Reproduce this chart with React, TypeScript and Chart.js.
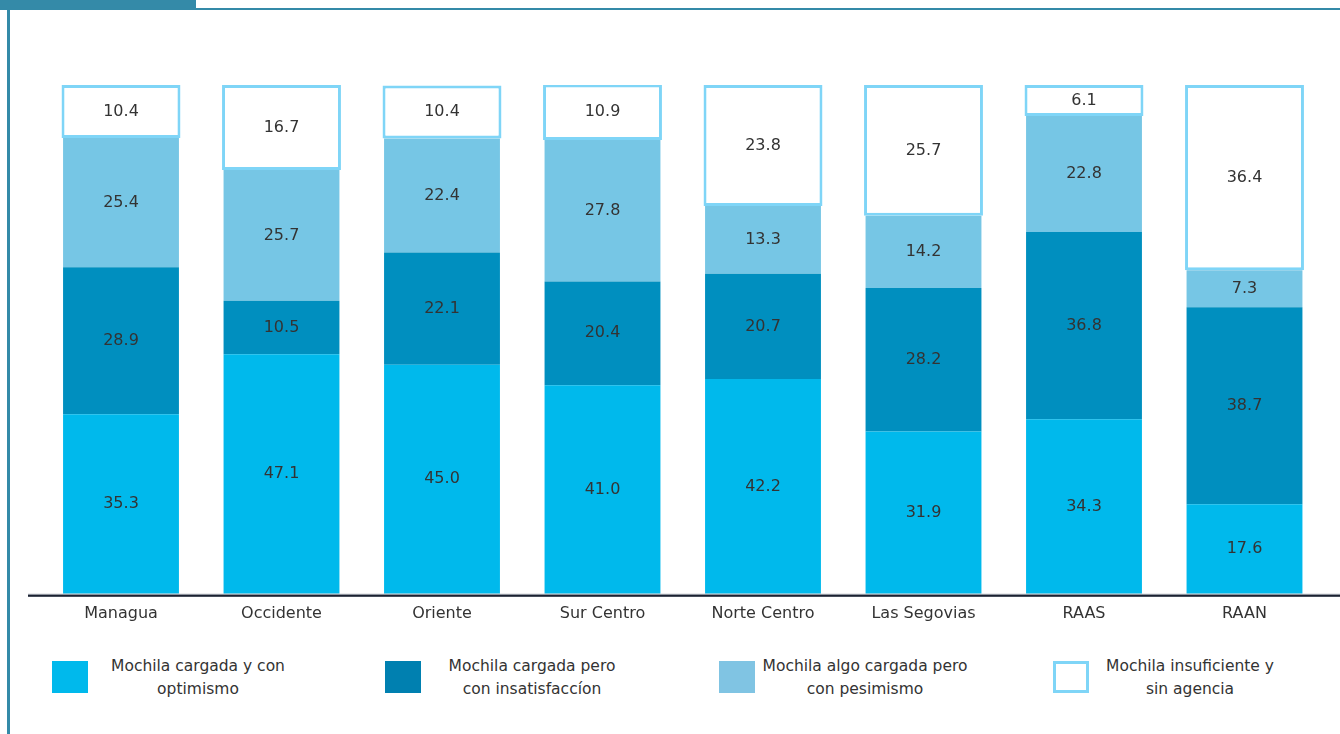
import React, { useEffect, useRef } from "react";
import { Chart, registerables } from "chart.js";

Chart.register(...registerables);

const categories = ["Managua", "Occidente", "Oriente", "Sur Centro", "Norte Centro", "Las Segovias", "RAAS", "RAAN"];
const optimismo = [35.3, 47.1, 45.0, 41.0, 42.2, 31.9, 34.3, 17.6];
const insatisfaccion = [28.9, 10.5, 22.1, 20.4, 20.7, 28.2, 36.8, 38.7];
const pesimismo = [25.4, 25.7, 22.4, 27.8, 13.3, 14.2, 22.8, 7.3];
const sinAgencia = [10.4, 16.7, 10.4, 10.9, 23.8, 25.7, 6.1, 36.4];

const seriesNames = [
  ["Mochila cargada y con", "optimismo"],
  ["Mochila cargada pero", "con insatisfaccíon"],
  ["Mochila algo cargada pero", "con pesimismo"],
  ["Mochila insuficiente y", "sin agencia"],
];

const FONT = "'DejaVu Sans', sans-serif";
const TEXT = "#333333";

const labelPlugin = {
  id: "segLabels",
  afterDatasetsDraw(chart: any) {
    const ctx = chart.ctx;
    ctx.save();
    ctx.font = `16px ${FONT}`;
    ctx.fillStyle = TEXT;
    ctx.textAlign = "center";
    ctx.textBaseline = "middle";
    chart.data.datasets.forEach((ds: any, di: number) => {
      const meta = chart.getDatasetMeta(di);
      meta.data.forEach((el: any, i: number) => {
        const p = el.getProps(["x", "y", "base"], true);
        const v = ds.data[i];
        ctx.fillText(v.toFixed(1), p.x, (p.y + p.base) / 2);
      });
    });
    ctx.restore();
  },
};

const baselinePlugin = {
  id: "baseline",
  afterDraw(chart: any) {
    const ctx = chart.ctx;
    const b = chart.chartArea.bottom;
    ctx.save();
    ctx.fillStyle = "#9aa0a8";
    ctx.fillRect(0, b, chart.width, 1);
    ctx.fillStyle = "#1b2232";
    ctx.fillRect(0, b + 1, chart.width, 2);
    ctx.restore();
  },
};

export default function App() {
  const ref = useRef<HTMLCanvasElement | null>(null);

  useEffect(() => {
    if (!ref.current) return;
    const bp = 0.722;
    const chart = new Chart(ref.current, {
      type: "bar",
      data: {
        labels: categories,
        datasets: [
          { label: seriesNames[0].join(" "), data: optimismo, backgroundColor: "#00b9ec", barPercentage: bp, categoryPercentage: 1 },
          { label: seriesNames[1].join(" "), data: insatisfaccion, backgroundColor: "#008fbf", barPercentage: bp, categoryPercentage: 1 },
          { label: seriesNames[2].join(" "), data: pesimismo, backgroundColor: "#76c6e5", barPercentage: bp, categoryPercentage: 1 },
          {
            label: seriesNames[3].join(" "),
            data: sinAgencia,
            backgroundColor: "#ffffff",
            borderColor: "#7fd5f7",
            borderWidth: 3,
            borderSkipped: false,
            barPercentage: 0.741,
            categoryPercentage: 1,
          },
        ],
      },
      options: {
        responsive: false,
        animation: false,
        layout: { padding: { top: 85, left: 12.75, right: 15.25, bottom: 7 } },
        plugins: { legend: { display: false }, tooltip: { enabled: false } },
        scales: {
          x: {
            stacked: true,
            grid: { display: false, drawTicks: false },
            border: { display: false },
            ticks: { color: TEXT, font: { family: FONT, size: 16 }, padding: 10 },
          },
          y: {
            stacked: true,
            display: false,
            min: 0,
            max: 100,
          },
        },
      },
      plugins: [labelPlugin, baselinePlugin],
    } as any);
    return () => chart.destroy();
  }, []);

  const legendColors = ["#00b9ec", "#0080b0", "#80c4e3", "#ffffff"];
  const squareLefts = [52, 385, 719, 1053];
  const textCenters = [198, 532, 865, 1190];

  return (
    <div style={{ position: "absolute", left: 0, top: 0, width: 1340, height: 734, background: "#fff", overflow: "hidden" }}>
      <div style={{ position: "absolute", left: 0, top: 0, width: 196, height: 10, background: "#348aa8" }} />
      <div style={{ position: "absolute", left: 196, top: 8, width: 1144, height: 2, background: "#348aa8" }} />
      <div style={{ position: "absolute", left: 7, top: 10, width: 3, height: 724, background: "#348aa8" }} />
      <canvas ref={ref} width={1312} height={640} style={{ position: "absolute", left: 28, top: 0, width: 1312, height: 640 }} />
      {seriesNames.map((n, i) => (
        <React.Fragment key={i}>
          <div
            style={{
              position: "absolute",
              left: squareLefts[i],
              top: 661,
              width: 36,
              height: 32,
              boxSizing: "border-box",
              background: legendColors[i],
              border: i === 3 ? "3px solid #7fd5f7" : "none",
            }}
          />
          <div
            style={{
              position: "absolute",
              left: textCenters[i] - 130,
              top: 655,
              width: 260,
              textAlign: "center",
              fontFamily: FONT,
              fontSize: 15.5,
              lineHeight: "23px",
              color: TEXT,
            }}
          >
            {n[0]}
            <br />
            {n[1]}
          </div>
        </React.Fragment>
      ))}
    </div>
  );
}
